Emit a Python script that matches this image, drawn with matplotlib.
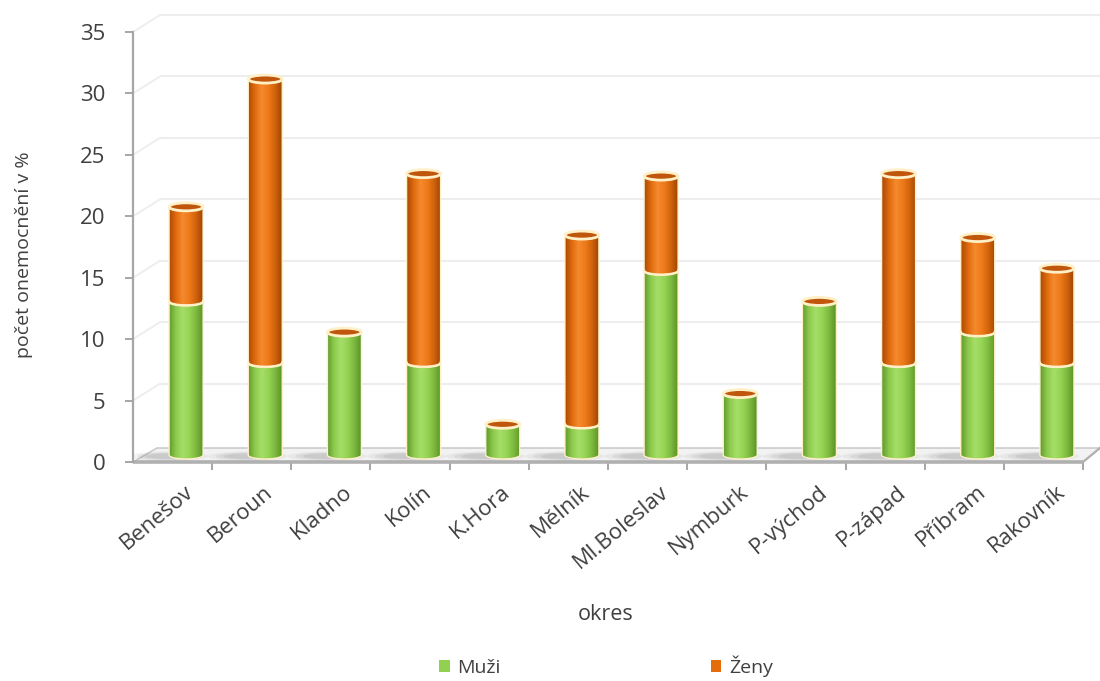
import numpy as np
import matplotlib
matplotlib.use("Agg")
import matplotlib.pyplot as plt
import matplotlib.transforms as mtransforms
from matplotlib.patches import Polygon, Ellipse, Patch
from matplotlib.colors import LinearSegmentedColormap

# data (percent of cases per district)
okresy = ["Benešov", "Beroun", "Kladno", "Kolín", "K.Hora", "Mělník",
          "Ml.Boleslav", "Nymburk", "P-východ", "P-západ", "Příbram", "Rakovník"]
muzi = [12.5, 7.5, 10.0, 7.5, 2.5, 2.5, 15.0, 5.0, 12.5, 7.5, 10.0, 7.5]
zeny = [7.7, 23.1, 0.0, 15.4, 0.0, 15.4, 7.7, 0.0, 0.0, 15.4, 7.7, 7.7]
y_ticks = [0, 5, 10, 15, 20, 25, 30, 35]

plt.rcParams["font.family"] = ["Open Sans", "DejaVu Sans"]

W, H = 1100, 681
fig = plt.figure(figsize=(W / 100, H / 100), dpi=100)
ax = fig.add_axes([133 / W, 1 - 462 / H, 950 / W, 430 / H])
n = len(okresy)
x = np.arange(n)

# fake 3d geometry, in data units
px_x = 950 / n
px_y = 430 / 35
wall_dx, wall_dy = 27 / px_x, 17 / px_y
floor_dx_l, floor_dx_r, floor_dy = 24 / px_x, 17 / px_x, 14 / px_y
bar_dx, bar_base = 13.5 / px_x, 7 / px_y
hw, hh = 17 / px_x, 4 / px_y

grid_c = "#ededed"
axis_c = "#a6a6a6"
txt_c = "#404040"

# back wall + side wall grid
for v in y_ticks[1:]:
    ax.plot([-0.5 + wall_dx, n - 0.5 + wall_dx], [v + wall_dy, v + wall_dy],
            color=grid_c, lw=1.5, zorder=1, clip_on=False, solid_capstyle="butt")
    ax.plot([-0.5, -0.5 + wall_dx], [v, v + wall_dy],
            color=grid_c, lw=1.3, zorder=1, clip_on=False)

# floor
floor = Polygon([(-0.5, 0), (n - 0.5, 0), (n - 0.5 + floor_dx_r, floor_dy),
                 (-0.5 + floor_dx_l, floor_dy)], closed=True,
                facecolor="#f2f2f2", edgecolor="#c4c4c4", lw=1.0, zorder=2, clip_on=False)
ax.add_patch(floor)
ax.plot([-0.5, n - 0.5], [0, 0], color="#b0b0b0", lw=2.6, zorder=2.5, clip_on=False,
        solid_capstyle="butt")
ax.plot([n - 0.5, n - 0.5 + floor_dx_r], [0, floor_dy], color="#b0b0b0", lw=1.6,
        zorder=2.5, clip_on=False)

green = LinearSegmentedColormap.from_list(
    "g", ["#5f9a2d", "#8cc94c", "#a6de68", "#96d455", "#7cb93e", "#5a9428"])
orange = LinearSegmentedColormap.from_list(
    "o", ["#a84a05", "#e06a0e", "#f58a2e", "#ee7a1a", "#d0620c", "#9e4504"])
rim = "#fff0c8"
grad = np.linspace(0, 1, 256).reshape(1, -1)
t = np.linspace(np.pi, 2 * np.pi, 40)


def segment(xc, y0, y1, cmap, z):
    xs = xc + hw * np.cos(t)
    pts = np.vstack([np.column_stack([xs, y0 + hh * np.sin(t)]),
                     np.column_stack([xs[::-1], y1 + hh * np.sin(t[::-1])])])
    clip = Polygon(pts, closed=True, transform=ax.transData)
    im = ax.imshow(grad, cmap=cmap, extent=[xc - hw, xc + hw, y0 - hh, y1],
                   aspect="auto", zorder=z, interpolation="bilinear")
    im.set_clip_path(clip)
    ax.add_patch(Polygon(pts, closed=True, fill=False, edgecolor=rim, lw=1.0,
                         zorder=z + 0.1))


for i in range(n):
    xc = x[i] + bar_dx
    y0 = bar_base
    y1 = y0 + muzi[i]
    y2 = y1 + zeny[i]
    # soft shadow on the floor
    for k, a in enumerate([0.10, 0.14, 0.18]):
        ax.add_patch(Ellipse((xc - 0.22, y0 - 0.1), 1.0 - k * 0.2, 0.75 - k * 0.15,
                             facecolor="#8a8a8a", edgecolor="none", alpha=a, zorder=3))
    segment(xc, y0, y1, green, 4)
    if zeny[i] > 0:
        segment(xc, y1, y2, orange, 4)
        ax.plot(xc + hw * np.cos(t), y1 + hh * np.sin(t), color=rim, lw=1.8, zorder=4.3)
    ax.add_patch(Ellipse((xc, y2), 2 * hw, 2 * hh, facecolor="#c0560c",
                         edgecolor=rim, lw=2.0, zorder=4.5))

ax.set_xlim(-0.5, n - 0.5)
ax.set_ylim(0, 35)
for s in ["top", "right", "bottom"]:
    ax.spines[s].set_visible(False)
ax.spines["left"].set_color(axis_c)
ax.spines["left"].set_linewidth(1.6)
ax.patch.set_alpha(0)

ax.set_yticks(y_ticks)
ax.tick_params(axis="y", length=6, width=1.4, color=axis_c, labelsize=16,
               labelcolor=txt_c, pad=14)
ax.set_xticks(x)
ax.set_xticklabels(okresy, rotation=40, ha="right", rotation_mode="anchor",
                   fontsize=16, color=txt_c)
ax.set_xticks(np.arange(n) + 0.5, minor=True)
ax.tick_params(axis="x", which="major", length=0, pad=14)
ax.tick_params(axis="x", which="minor", length=6, width=1.4, color=axis_c)
shift = mtransforms.ScaledTranslation(12 / 100, 0, fig.dpi_scale_trans)
for lbl in ax.get_xticklabels():
    lbl.set_transform(lbl.get_transform() + shift)

fig.text(24 / W, 1 - 255 / H, "počet onemocnění v %", rotation=90, ha="center",
         va="center", fontsize=14, color=txt_c)
fig.text(606 / W, 1 - 614 / H, "okres", ha="center", va="center", fontsize=15.5,
         color=txt_c)

handles = [Patch(facecolor="#92d050", edgecolor="none", label="Muži"),
           Patch(facecolor="#e46c0a", edgecolor="none", label="Ženy")]
fig.legend(handles=handles, loc="center", bbox_to_anchor=(606 / W, 1 - 666 / H),
           ncol=2, frameon=False, fontsize=14, handlelength=0.55, handleheight=0.55,
           handletextpad=0.4, columnspacing=10.8, labelcolor=txt_c)

fig.savefig("out.png", dpi=100, facecolor="white")
